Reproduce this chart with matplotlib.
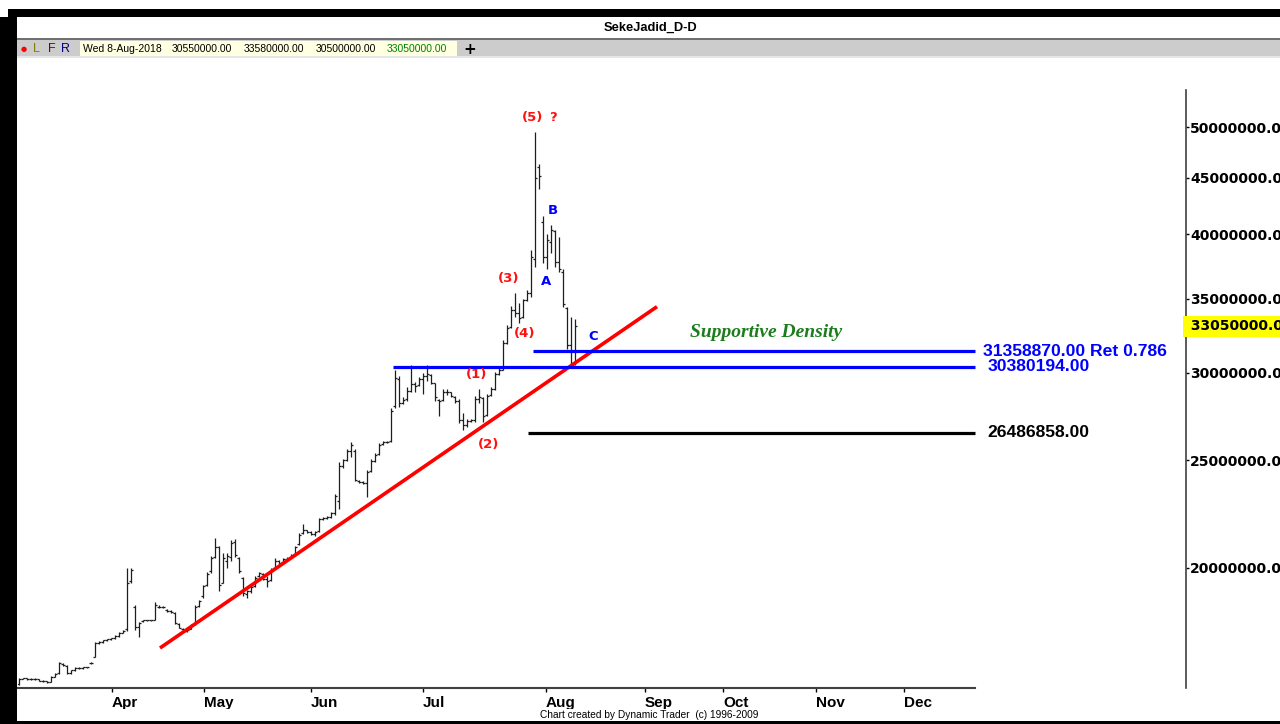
import numpy as np
import matplotlib
matplotlib.use('Agg')
import matplotlib.pyplot as plt
import matplotlib.transforms as mtrans
from matplotlib.patches import Rectangle
from matplotlib.ticker import NullLocator

# barres journalieres, en millions
ouv = [15.72, 15.88, 15.90, 15.87, 15.87, 15.86, 15.82, 15.80, 15.78, 15.95,
       16.08, 16.38, 16.30, 16.08, 16.17, 16.24, 16.24, 16.26, 16.40, 16.62,
       17.12, 17.15, 17.20, 17.24, 17.28, 17.36, 17.48, 17.60, 19.45, 18.45,
       17.70, 17.90, 17.93, 17.93, 17.95, 18.45, 18.43, 18.32, 18.28, 18.22,
       17.78, 17.62, 17.55, 17.62, 17.80, 18.48, 18.85, 19.30, 19.85, 20.45,
       20.90, 19.40, 20.30, 20.45, 21.10, 20.40, 19.60, 18.95, 19.05, 19.25,
       19.65, 19.75, 19.55, 19.50, 20.00, 20.28, 20.25, 20.36, 20.45, 20.58,
       21.00, 21.50, 21.62, 21.55, 21.45, 21.60, 22.15, 22.20, 22.25, 22.40,
       23.00, 24.70, 25.00, 25.50, 25.50, 23.95, 23.90, 23.85, 24.45, 24.95,
       25.35, 25.85, 25.98, 26.05, 28.00, 29.60, 28.20, 28.40, 28.90, 29.30,
       29.25, 29.60, 29.80, 29.85, 29.35, 28.35, 28.35, 28.85, 28.80, 28.55,
       28.30, 27.20, 26.90, 27.15, 27.20, 28.40, 28.45, 27.50, 28.65, 29.00,
       29.90, 30.20, 31.90, 33.00, 34.20, 34.00, 33.70, 34.90, 35.40, 38.00,
       46.00, 41.00, 38.20, 39.40, 40.30, 37.80, 37.00, 34.30, 31.80, 30.55]
haut = [15.91, 15.92, 15.91, 15.90, 15.90, 15.87, 15.84, 15.82, 15.96, 16.07,
        16.45, 16.42, 16.34, 16.18, 16.26, 16.27, 16.28, 16.29, 16.43, 17.15,
        17.17, 17.22, 17.26, 17.30, 17.38, 17.50, 17.57, 19.98, 20.00, 18.50,
        17.86, 17.95, 17.96, 17.96, 18.62, 18.50, 18.46, 18.36, 18.31, 18.24,
        17.82, 17.64, 17.62, 17.80, 18.50, 18.70, 19.30, 19.81, 20.50, 21.30,
        20.95, 20.62, 20.62, 21.20, 21.22, 20.45, 19.62, 19.10, 19.25, 19.65,
        19.82, 19.78, 19.68, 20.00, 20.40, 20.32, 20.40, 20.46, 20.60, 20.95,
        21.50, 21.90, 21.65, 21.58, 21.60, 22.20, 22.25, 22.28, 22.48, 23.30,
        24.90, 25.10, 25.60, 26.00, 25.60, 24.00, 23.95, 24.50, 25.10, 25.40,
        25.90, 26.02, 26.05, 27.90, 30.20, 29.80, 28.50, 29.10, 30.50, 29.45,
        29.75, 30.00, 30.50, 29.90, 29.40, 28.40, 29.00, 29.00, 28.85, 28.60,
        28.40, 27.60, 27.25, 27.28, 28.60, 29.00, 28.55, 28.70, 29.10, 30.05,
        30.35, 32.10, 33.10, 34.50, 35.40, 34.70, 35.00, 35.60, 38.70, 49.45,
        46.30, 41.60, 40.00, 40.80, 40.40, 39.80, 37.20, 34.40, 33.70, 33.58]
bas = [15.68, 15.86, 15.85, 15.85, 15.84, 15.80, 15.78, 15.75, 15.77, 15.93,
       16.05, 16.30, 16.05, 16.04, 16.15, 16.21, 16.22, 16.23, 16.38, 16.60,
       17.08, 17.12, 17.17, 17.22, 17.26, 17.34, 17.45, 17.55, 19.36, 17.57,
       17.32, 17.88, 17.89, 17.90, 17.93, 18.38, 18.40, 18.24, 18.22, 17.80,
       17.64, 17.50, 17.50, 17.60, 17.75, 18.43, 18.80, 19.25, 19.80, 20.40,
       19.05, 19.36, 20.00, 20.30, 20.45, 19.80, 18.85, 18.80, 19.00, 19.20,
       19.62, 19.50, 19.20, 19.45, 19.98, 20.18, 20.22, 20.34, 20.42, 20.52,
       20.96, 21.45, 21.50, 21.40, 21.38, 21.55, 22.10, 22.12, 22.20, 22.30,
       22.60, 24.60, 24.95, 25.20, 23.95, 23.85, 23.80, 23.16, 24.40, 24.90,
       25.30, 25.80, 25.92, 26.00, 27.90, 27.95, 28.10, 28.30, 28.80, 28.80,
       29.20, 28.70, 29.50, 29.30, 28.30, 27.40, 28.30, 28.65, 28.50, 28.20,
       27.00, 26.63, 26.80, 27.08, 27.10, 28.15, 27.10, 27.40, 28.60, 28.95,
       29.85, 30.15, 31.85, 32.90, 33.70, 33.30, 33.60, 34.80, 35.10, 37.40,
       44.00, 37.70, 37.20, 38.50, 37.40, 37.00, 34.40, 31.50, 30.40, 30.50]
clot = [15.88, 15.90, 15.87, 15.87, 15.86, 15.82, 15.80, 15.77, 15.93, 16.05,
        16.40, 16.34, 16.08, 16.16, 16.24, 16.24, 16.26, 16.27, 16.41, 17.10,
        17.14, 17.20, 17.24, 17.28, 17.36, 17.48, 17.55, 19.40, 19.90, 17.70,
        17.85, 17.93, 17.93, 17.94, 18.50, 18.43, 18.43, 18.28, 18.26, 17.85,
        17.66, 17.55, 17.58, 17.76, 18.45, 18.65, 19.25, 19.75, 20.40, 20.90,
        19.30, 20.40, 20.50, 21.05, 20.55, 19.85, 19.00, 19.05, 19.20, 19.60,
        19.78, 19.55, 19.45, 19.95, 20.30, 20.22, 20.36, 20.42, 20.55, 20.90,
        21.40, 21.65, 21.55, 21.45, 21.55, 22.15, 22.20, 22.22, 22.42, 23.20,
        24.70, 25.00, 25.50, 25.80, 24.00, 23.90, 23.85, 24.40, 24.95, 25.30,
        25.80, 25.98, 26.00, 27.70, 29.70, 28.20, 28.35, 28.90, 29.30, 29.20,
        29.60, 29.80, 29.90, 29.40, 28.50, 28.30, 28.85, 28.80, 28.60, 28.30,
        27.20, 26.90, 27.15, 27.20, 28.40, 28.50, 27.40, 28.60, 29.00, 29.90,
        30.20, 31.90, 32.90, 34.20, 34.00, 33.60, 34.90, 35.40, 38.20, 45.00,
        45.20, 38.20, 39.50, 40.40, 37.80, 37.20, 34.60, 31.80, 30.60, 33.05]

mois = ['Apr', 'May', 'Jun', 'Jul', 'Aug', 'Sep', 'Oct', 'Nov', 'Dec']
pos_mois = [23.25, 46.25, 73, 101, 131.75, 156.5, 176, 199.25, 221.25]

ticks_prix = [20e6, 25e6, 30e6, 35e6, 40e6, 45e6, 50e6]

niveaux = [31358870.0, 30380194.0, 26486858.0]
debut_niveaux = [128.5, 93.5, 127.25]
texte_niveaux = ['31358870.00 Ret 0.786', '30380194.00', '26486858.00']
couleur_niveaux = ['#0000ff', '#0000ff', 'black']

tendance_x = [35.25, 159.5]
tendance_y = [16.93e6, 34.42e6]

vagues = ['(5)', '?', '(3)', '(4)', '(1)', '(2)', 'B', 'A', 'C']
vagues_x = [128.5, 133.5, 122.5, 126.5, 114.5, 117.5, 133.5, 131.75, 143.5]
vagues_y = [50.95e6, 50.95e6, 36.53e6, 32.54e6, 29.88e6, 25.87e6, 42.0e6, 36.3e6, 32.34e6]
vagues_c = ['#ff1010'] * 6 + ['#0000ff'] * 3

W, H = 1280, 724

o = np.array(ouv) * 1e6
h = np.array(haut) * 1e6
b = np.array(bas) * 1e6
c = np.array(clot) * 1e6
x = np.arange(len(c))

fig = plt.figure(figsize=(W / 100, H / 100), dpi=100)
ax = fig.add_axes([18 / W, 36 / H, 1168 / W, 598 / H])

ax.vlines(x, b, h, color='#1e1e1e', lw=0.9, zorder=2)
ax.hlines(o, x - 0.5, x, color='#1e1e1e', lw=0.9, zorder=2)
ax.hlines(c, x, x + 0.5, color='#1e1e1e', lw=0.9, zorder=2)

ax.plot(tendance_x, tendance_y, color='#ff0000', lw=2.6, solid_capstyle='butt', zorder=3)

fin = 239
for niv, d, t, col in zip(niveaux, debut_niveaux, texte_niveaux, couleur_niveaux):
    ax.hlines(niv, d, fin, color=col, lw=2.3, zorder=3)
    dx = 0 if 'Ret' in t else 1.2
    ax.text(fin + 2 + dx, niv, t, color=col, fontsize=12.6, fontweight='bold',
            family='Liberation Sans', ha='left', va='center')

for t, vx, vy, col in zip(vagues, vagues_x, vagues_y, vagues_c):
    ax.text(vx, vy, t, color=col, fontsize=9.5, fontweight='bold', ha='center', va='center')

ax.text(186.75, 32.6e6, 'Supportive Density', color='#1b7d1b', fontsize=14,
        fontweight='bold', style='italic', family='Liberation Serif', ha='center', va='center')

ax.set_yscale('log')
ax.set_xlim(-0.25, 291.75)
ax.set_ylim(15.58e6, 54.0e6)

ax.yaxis.tick_right()
ax.set_yticks(ticks_prix)
ax.set_yticklabels([f'{v:.2f}' for v in ticks_prix])
ax.yaxis.set_minor_locator(NullLocator())
ax.tick_params(axis='y', direction='out', length=2.5, width=1, pad=0.5,
               labelsize=10, colors='black')
for lab in ax.get_yticklabels():
    lab.set_fontweight('bold')

ax.set_xticks(pos_mois)
ax.set_xticklabels(mois)
ax.tick_params(axis='x', direction='out', length=3, width=1, pad=3)
for lab in ax.get_xticklabels():
    lab.set_fontweight('bold')
    lab.set_family('Liberation Sans')
    lab.set_fontsize(11)
    lab.set_horizontalalignment('left')

ax.spines['top'].set_visible(False)
ax.spines['left'].set_visible(False)
ax.spines['bottom'].set_bounds(-0.25, fin)
ax.spines['bottom'].set_color('#404040')
ax.spines['bottom'].set_linewidth(1.5)
ax.spines['right'].set_color('#404040')
ax.spines['right'].set_linewidth(1.2)

# derniere cloture en jaune sur l'axe
tr = mtrans.blended_transform_factory(ax.transAxes, ax.transData)
ax.text(1.0, c[-1], f' {c[-1]:.2f}', transform=tr, fontsize=10, fontweight='bold',
        ha='left', va='center', clip_on=False,
        bbox=dict(facecolor='#ffff00', edgecolor='none', pad=2.5))


def rect_px(x0, y0, x1, y1, couleur, z=5):
    fig.patches.append(Rectangle((x0 / W, 1 - y1 / H), (x1 - x0) / W, (y1 - y0) / H,
                                 transform=fig.transFigure, facecolor=couleur,
                                 edgecolor='none', zorder=z))


def texte_px(px, py, s, **kw):
    fig.text(px / W, 1 - py / H, s, zorder=6, va='center', **kw)


rect_px(17, 709, W, 721, 'white', z=4)
rect_px(8, 9, W, 17, 'black')
rect_px(0, 17, 17, H, 'black')
rect_px(0, 721, W, H, 'black')
rect_px(17, 38, W, 40, '#6f6f6f')
rect_px(17, 40, W, 56, '#cccccc')
rect_px(17, 56, W, 58, '#e6e6e6')
rect_px(80, 41, 457, 56, '#ffffe1')

texte_px(650, 28, 'SekeJadid_D-D', ha='center', fontsize=9.3, fontweight='bold',
         family='Liberation Sans')
texte_px(24, 49, '●', ha='center', color='#ff0000', fontsize=5)
texte_px(33, 49, 'L', color='#808000', fontsize=9, family='Liberation Sans')
texte_px(48, 49, 'F', color='#800000', fontsize=9, family='Liberation Sans')
texte_px(61, 49, 'R', color='#000080', fontsize=9, family='Liberation Sans')
texte_px(83, 49, 'Wed 8-Aug-2018', fontsize=7.5, family='Liberation Sans')
entete = [o[-1], h[-1], b[-1], c[-1]]
entete_x = [172, 244, 316, 387]
for v, ex, col in zip(entete, entete_x, ['black', 'black', 'black', '#008000']):
    texte_px(ex, 49, f'{v:.2f}', fontsize=7.5, color=col, family='Liberation Sans')
texte_px(470, 49, '+', ha='center', fontsize=11, fontweight='bold')
texte_px(649, 715, 'Chart created by Dynamic Trader  (c) 1996-2009', ha='center',
         fontsize=7.3, family='Liberation Sans')

fig.savefig('out.png', dpi=100)
